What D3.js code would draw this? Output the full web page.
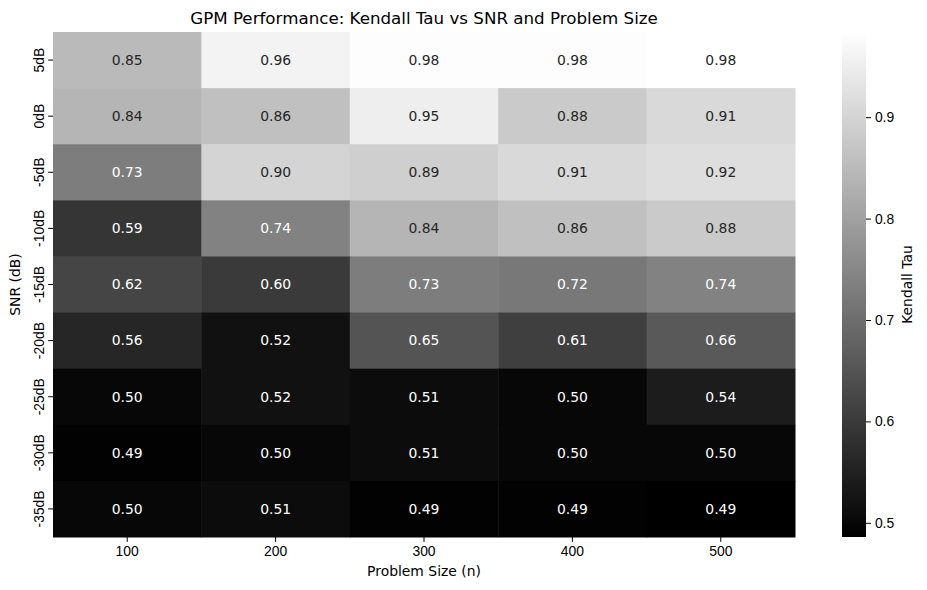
<!DOCTYPE html>
<html lang="en">
<head>
<meta charset="UTF-8">
<title>GPM Performance: Kendall Tau vs SNR and Problem Size</title>
<script src="https://d3js.org/d3.v7.min.js"></script>
<style>
    body { margin: 0; background: #fff; }
    svg { display: block; font-family: "DejaVu Sans", sans-serif; }
    .tick text { font-size: 13.9px; fill: #000; }
    .tick line { stroke: #000; stroke-width: 1px; }
    .domain { display: none; }
</style>
</head>
<body>
<svg id="chart" width="927" height="590"></svg>
<script>
const problemSizes = ['100', '200', '300', '400', '500'];
const snrLevels = ['5dB', '0dB', '-5dB', '-10dB', '-15dB', '-20dB', '-25dB', '-30dB', '-35dB'];
// one row per SNR level, columns follow problemSizes
const tau5 = [0.85, 0.96, 0.98, 0.98, 0.984];
const tau0 = [0.84, 0.86, 0.95, 0.88, 0.91];
const tauM5 = [0.73, 0.90, 0.89, 0.91, 0.92];
const tauM10 = [0.59, 0.74, 0.84, 0.86, 0.88];
const tauM15 = [0.62, 0.60, 0.73, 0.72, 0.74];
const tauM20 = [0.56, 0.52, 0.65, 0.61, 0.66];
const tauM25 = [0.50, 0.52, 0.51, 0.50, 0.54];
const tauM30 = [0.49, 0.50, 0.51, 0.50, 0.50];
const tauM35 = [0.50, 0.51, 0.49, 0.49, 0.486];
const colorbarTicks = [0.5, 0.6, 0.7, 0.8, 0.9];

const rows = [tau5, tau0, tauM5, tauM10, tauM15, tauM20, tauM25, tauM30, tauM35];
const cells = [];
rows.forEach((vals, i) => vals.forEach((v, j) => {
    cells.push({ snr: snrLevels[i], size: problemSizes[j], value: v });
}));

const svg = d3.select('#chart');
const margin = { left: 53, top: 32, right: 795, bottom: 537 };

const x = d3.scaleBand().domain(problemSizes).range([margin.left, margin.right]);
const y = d3.scaleBand().domain(snrLevels).range([margin.top, margin.bottom]);

const extent = d3.extent(cells, d => d.value);
const color = d3.scaleLinear().domain(extent).range(['#000000', '#ffffff']).clamp(true);

// text colour like seaborn: dark text on light cells
function textColor(v) {
    const c = d3.rgb(color(v));
    const lin = ch => { ch /= 255; return ch <= 0.03928 ? ch / 12.92 : Math.pow((ch + 0.055) / 1.055, 2.4); };
    const lum = 0.2126 * lin(c.r) + 0.7152 * lin(c.g) + 0.0722 * lin(c.b);
    return lum > 0.408 ? '#262626' : '#ffffff';
}

svg.append('g')
    .selectAll('rect')
    .data(cells)
    .enter().append('rect')
    .attr('x', d => x(d.size))
    .attr('y', d => y(d.snr))
    .attr('width', x.bandwidth() + 0.5)
    .attr('height', y.bandwidth() + 0.5)
    .attr('fill', d => color(d.value));

svg.append('g')
    .selectAll('text')
    .data(cells)
    .enter().append('text')
    .attr('x', d => x(d.size) + x.bandwidth() / 2)
    .attr('y', d => y(d.snr) + y.bandwidth() / 2)
    .attr('dy', '0.35em')
    .attr('text-anchor', 'middle')
    .attr('font-size', '13.9px')
    .attr('fill', d => textColor(d.value))
    .text(d => d.value.toFixed(2));

// axes
svg.append('g')
    .attr('transform', `translate(0,${margin.bottom})`)
    .call(d3.axisBottom(x).tickSize(4.9).tickPadding(4));

const yAxis = svg.append('g')
    .attr('transform', `translate(${margin.left},0)`)
    .call(d3.axisLeft(y).tickSize(4.9).tickPadding(4));
yAxis.selectAll('.tick text')
    .attr('transform', 'rotate(-90)')
    .attr('x', 0)
    .attr('dx', 0)
    .attr('y', -9)
    .attr('dy', 0)
    .attr('text-anchor', 'middle');

svg.append('text')
    .attr('x', (margin.left + margin.right) / 2)
    .attr('y', 24)
    .attr('text-anchor', 'middle')
    .attr('font-size', '16.7px')
    .text('GPM Performance: Kendall Tau vs SNR and Problem Size');

svg.append('text')
    .attr('x', (margin.left + margin.right) / 2)
    .attr('y', 576)
    .attr('text-anchor', 'middle')
    .attr('font-size', '13.9px')
    .text('Problem Size (n)');

svg.append('text')
    .attr('transform', `translate(20,${(margin.top + margin.bottom) / 2}) rotate(-90)`)
    .attr('text-anchor', 'middle')
    .attr('font-size', '13.9px')
    .text('SNR (dB)');

// colorbar
const cb = { x: 842, w: 24 };
const cbScale = d3.scaleLinear().domain(extent).range([margin.bottom, margin.top]);

const grad = svg.append('defs').append('linearGradient')
    .attr('id', 'cbGrad')
    .attr('x1', 0).attr('y1', 1).attr('x2', 0).attr('y2', 0);
grad.append('stop').attr('offset', '0%').attr('stop-color', color(extent[0]));
grad.append('stop').attr('offset', '100%').attr('stop-color', color(extent[1]));

svg.append('rect')
    .attr('x', cb.x)
    .attr('y', margin.top)
    .attr('width', cb.w)
    .attr('height', margin.bottom - margin.top)
    .attr('fill', 'url(#cbGrad)');

svg.append('g')
    .attr('transform', `translate(${cb.x + cb.w},0)`)
    .call(d3.axisRight(cbScale).tickValues(colorbarTicks).tickFormat(d3.format('.1f')).tickSize(4.9).tickPadding(4));

svg.append('text')
    .attr('transform', `translate(912,${(margin.top + margin.bottom) / 2}) rotate(-90)`)
    .attr('text-anchor', 'middle')
    .attr('font-size', '13.9px')
    .text('Kendall Tau');
</script>
</body>
</html>
